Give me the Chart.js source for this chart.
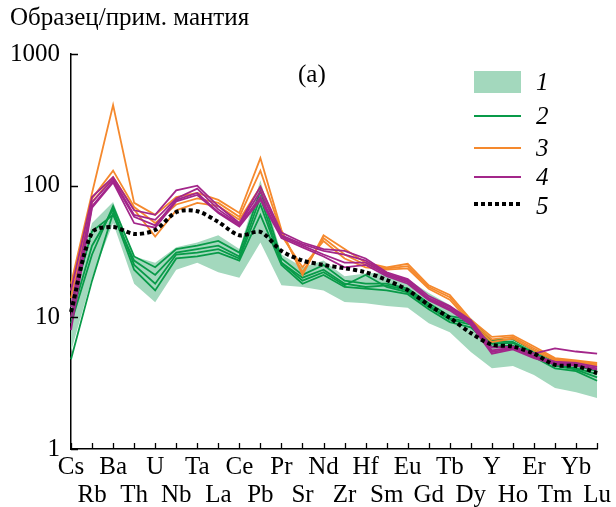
<!DOCTYPE html>
<html>
<head>
<meta charset="utf-8">
<script src="https://cdn.jsdelivr.net/npm/chart.js@4"></script>
<style>
  body { margin: 0; background: #fff; }
  #wrap { position: relative; width: 616px; height: 507px; font-family: 'Liberation Serif', serif; color: #000; }
  #ytitle { position: absolute; left: 10px; top: 3px; font-size: 25px; white-space: nowrap; }
  #panel { position: absolute; left: 298px; top: 60px; font-size: 25px; }
  .leg { position: absolute; left: 474px; width: 47px; }
  .num { position: absolute; left: 536px; font-size: 25px; font-style: italic; line-height: 26px; }
</style>
</head>
<body>
<div id="wrap">
  <canvas id="chart" width="616" height="507"></canvas>
  <div id="ytitle">Образец/прим. мантия</div>
  <div id="panel">(a)</div>
  <div class="leg" style="top:71px;height:22px;background:#a3d8bd"></div>
  <div class="num" style="top:69px">1</div>
  <div class="leg" style="top:115px;height:2px;background:#089a48"></div>
  <div class="num" style="top:103px">2</div>
  <div class="leg" style="top:147px;height:2px;background:#f5892d"></div>
  <div class="num" style="top:135px">3</div>
  <div class="leg" style="top:176px;height:2px;background:#a3268a"></div>
  <div class="num" style="top:164px">4</div>
  <div class="leg" style="top:202px;height:4px;background:repeating-linear-gradient(90deg,#000 0 4px,transparent 4px 7px)"></div>
  <div class="num" style="top:193px">5</div>
</div>
<script>
const elements = ['Cs','Rb','Ba','Th','U','Nb','Ta','La','Ce','Pb','Pr','Sr','Nd','Zr','Hf','Sm','Eu','Gd','Tb','Dy','Y','Ho','Er','Tm','Yb','Lu'];
const yTicks = [1, 10, 100, 1000];

// 1 - field (upper / lower envelope)
const fieldUpper = [13.5, 52, 75, 29, 26, 34, 37, 42, 33, 110, 30, 24, 27, 20.5, 21.5, 22, 19.5, 15.3, 12.4, 9.0, 6.5, 6.4, 5.45, 4.74, 4.5, 3.9];
const fieldLower = [5.5, 20, 52, 18, 13, 23, 26, 22, 20, 37, 17.5, 17, 16, 13.1, 12.8, 12.2, 11.8, 9.0, 7.7, 5.45, 4.1, 4.27, 3.65, 2.9, 2.7, 2.44];

// 2 - green samples
const green = [
  [4.8, 19, 62, 23, 16, 28, 29, 31, 27, 60, 25, 18, 21, 17, 16.5, 16, 15, 11.5, 9.2, 8.4, 6.0, 6.1, 5.0, 4.1, 3.9, 3.3],
  [10, 35, 66, 25, 18, 30, 31, 33, 28, 72, 26, 19, 22, 17.5, 21, 17, 15.5, 12, 9.6, 8.8, 6.3, 6.4, 5.3, 4.3, 4.0, 3.5],
  [12, 45, 60, 27, 21, 31, 33, 35, 29, 82, 26, 20, 23, 18, 17, 17.5, 16, 12.3, 9.8, 9.2, 6.5, 6.5, 5.4, 4.4, 4.1, 3.7],
  [9, 30, 70, 29, 24, 33, 35, 38, 31, 92, 28, 21, 25, 19, 18, 18, 16.5, 12.8, 10.2, 9.6, 6.7, 6.8, 5.6, 4.6, 4.3, 3.9]
];

// 3 - orange samples
const orange = [
  [18, 88, 410, 74, 60, 82, 88, 78, 62, 162, 46, 21, 42, 33, 26, 24, 25.5, 17.5, 14.8, 9.6, 7.1, 7.3, 6.0, 4.9, 4.7, 4.5],
  [16, 80, 130, 69, 52, 72, 80, 74, 58, 130, 44, 22, 40, 30, 25, 23.5, 24.5, 17, 14.2, 9.3, 6.8, 7.1, 5.8, 4.8, 4.6, 4.4],
  [14, 75, 116, 66, 41, 65, 74, 70, 55, 98, 42, 24, 38, 28, 24, 23, 23.5, 16.5, 13.6, 9.0, 6.5, 6.9, 5.6, 4.7, 4.5, 4.3]
];

// 4 - magenta samples
const magenta = [
  [16, 82, 116, 65, 60, 92, 100, 70, 52, 98, 44, 37, 33, 32, 28, 22, 19.5, 14.5, 12.2, 9.5, 5.9, 6.0, 5.3, 5.8, 5.5, 5.3],
  [12, 75, 112, 60, 55, 80, 95, 66, 51, 90, 42, 36, 32, 30, 27, 21.5, 19, 14, 12, 9.2, 5.6, 5.9, 5.1, 4.6, 4.5, 4.2],
  [10, 70, 108, 58, 50, 78, 88, 63, 50, 82, 41, 35, 30, 26, 26, 21, 18.5, 13.8, 11.6, 9.0, 5.45, 5.8, 5.0, 4.5, 4.4, 4.1],
  [8, 68, 106, 52, 48, 76, 85, 62, 49, 78, 40, 34, 29, 24, 25, 20.5, 18, 13.5, 11.3, 8.8, 5.3, 5.7, 4.9, 4.4, 4.3, 4.0]
];

// 5 - average (dotted)
const average = [11, 44, 48.5, 43, 46, 63, 64, 53, 42, 44.5, 32, 27, 25, 23.6, 22, 19.2, 16.1, 12.4, 9.9, 7.6, 6.2, 6.0, 5.3, 4.35, 4.27, 3.77];

const GREEN = '#089a48', ORANGE = '#f5892d', MAGENTA = '#a3268a', FIELD = '#a3d8bd';

// higher order is drawn first (underneath)
function lineSet(data, color, order) {
  return { data, borderColor: color, borderWidth: 1.8, pointRadius: 0, fill: false, tension: 0, order };
}

const datasets = [
  { data: fieldLower, borderWidth: 0, pointRadius: 0, fill: false, borderColor: 'transparent', order: 10 },
  { data: fieldUpper, borderWidth: 0, pointRadius: 0, fill: '-1', backgroundColor: FIELD, borderColor: 'transparent', order: 9 },
  ...green.map(d => lineSet(d, GREEN, 4)),
  ...orange.map(d => lineSet(d, ORANGE, 3)),
  ...magenta.map(d => lineSet(d, MAGENTA, 2)),
  { data: average, borderColor: '#000', borderWidth: 4, borderDash: [4, 3], pointRadius: 0, fill: false, tension: 0.3, order: 0 }
];

// small inward tick marks
const innerTicks = {
  id: 'innerTicks',
  afterDraw(chart) {
    const { ctx, chartArea, scales } = chart;
    ctx.save();
    ctx.strokeStyle = '#000';
    ctx.lineWidth = 1.3;
    ctx.beginPath();
    elements.forEach((e, i) => {
      const x = Math.round(scales.x.getPixelForValue(i)) + 0.5;
      ctx.moveTo(x, chartArea.bottom);
      ctx.lineTo(x, chartArea.bottom - 6);
    });
    yTicks.forEach(v => {
      const y = Math.round(scales.y.getPixelForValue(v)) + 0.5;
      ctx.moveTo(chartArea.left, y);
      ctx.lineTo(chartArea.left + 7, y);
    });
    ctx.stroke();
    ctx.restore();
  }
};

new Chart(document.getElementById('chart'), {
  type: 'line',
  data: { labels: elements, datasets },
  options: {
    responsive: false,
    animation: false,
    layout: { padding: { top: 54, right: 16, left: 0, bottom: 0 } },
    plugins: { legend: { display: false }, tooltip: { enabled: false } },
    scales: {
      x: {
        type: 'category',
        offset: false,
        grid: { display: true, drawOnChartArea: false, drawTicks: false },
        border: { display: true, color: '#000', width: 1.5 },
        ticks: {
          color: '#000',
          padding: 5,
          maxRotation: 0,
          autoSkip: false,
          font: { family: 'Liberation Serif', size: 25, lineHeight: 1.1 },
          callback: (v, i) => i % 2 === 0 ? [elements[i], ' '] : [' ', elements[i]]
        },
        afterFit: s => { s.height = 58; }
      },
      y: {
        type: 'logarithmic',
        min: 1,
        max: 1000,
        grid: { display: true, drawOnChartArea: false, drawTicks: false },
        border: { display: true, color: '#000', width: 1.5 },
        afterBuildTicks: s => { s.ticks = yTicks.map(v => ({ value: v })); },
        ticks: {
          color: '#000',
          padding: 11,
          font: { family: 'Liberation Serif', size: 25 },
          callback: v => String(v)
        },
        afterFit: s => { s.width = 71; }
      }
    }
  },
  plugins: [innerTicks]
});
</script>
</body>
</html>
